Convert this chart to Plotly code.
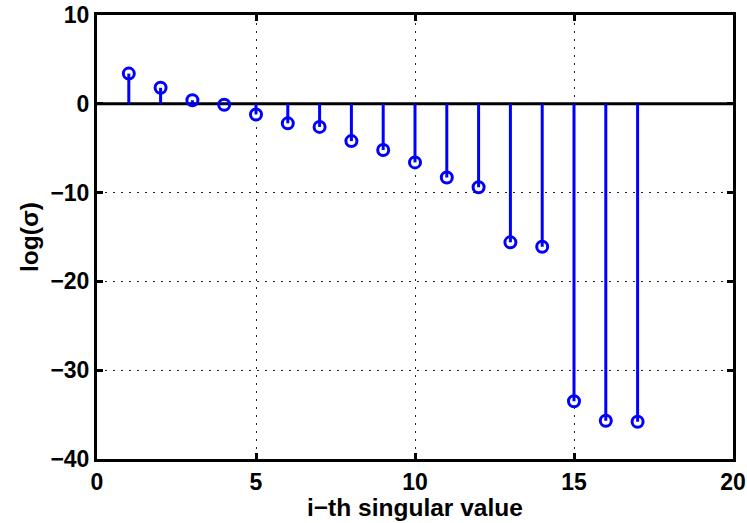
import plotly.graph_objects as go

idx = list(range(1, 18))
log_sigma = [3.4, 1.8, 0.4, -0.1, -1.2, -2.2, -2.6, -4.2, -5.2, -6.6,
             -8.3, -9.4, -15.6, -16.1, -33.5, -35.7, -35.8]
x_ticks = [0, 5, 10, 15, 20]
y_ticks = [-40, -30, -20, -10, 0, 10]
x_label = "i\u2212th singular value"
y_label = "log(\u03c3)"

stem_x, stem_y = [], []
for xi, yi in zip(idx, log_sigma):
    stem_x += [xi, xi, None]
    stem_y += [0, yi, None]

fig = go.Figure()
fig.add_trace(go.Scatter(x=[0, 20], y=[0, 0], mode="lines",
                         line=dict(color="black", width=3), hoverinfo="skip"))
fig.add_trace(go.Scatter(x=stem_x, y=stem_y, mode="lines",
                         line=dict(color="#0000ff", width=3), hoverinfo="skip"))
fig.add_trace(go.Scatter(x=idx, y=log_sigma, mode="markers",
                         marker=dict(symbol="circle-open", size=11, color="#0000ff",
                                     line=dict(width=3, color="#0000ff"))))

tick_font = dict(family="Liberation Sans, Arial, sans-serif", size=23, color="black", weight="bold")
title_font = dict(family="Liberation Sans, Arial, sans-serif", size=24.5, color="black", weight="bold")
axis_common = dict(showline=True, linecolor="black", linewidth=3, mirror="ticks",
                   ticks="inside", ticklen=6, tickwidth=3, tickcolor="black",
                   showgrid=True, gridcolor="#222222", griddash="2px,6px", gridwidth=1,
                   zeroline=False, tickfont=tick_font, automargin=False)

fig.update_layout(
    width=747, height=523,
    margin=dict(l=97, r=14, t=15, b=64),
    plot_bgcolor="white", paper_bgcolor="white",
    showlegend=False,
    xaxis=dict(range=[0, 20], tickvals=x_ticks, **axis_common),
    yaxis=dict(range=[-40, 10], tickvals=y_ticks,
               ticktext=[str(v).replace("-", "\u2212") for v in y_ticks],
               **axis_common),
    annotations=[
        dict(text=x_label, xref="paper", yref="paper", x=0.5, y=0,
             yshift=-48, xanchor="center", yanchor="middle",
             showarrow=False, font=title_font),
        dict(text=y_label, xref="paper", yref="paper", x=0, y=0.5,
             xshift=-68, xanchor="center", yanchor="middle", textangle=-90,
             showarrow=False, font=title_font),
    ],
)
fig.write_html("out.html")
